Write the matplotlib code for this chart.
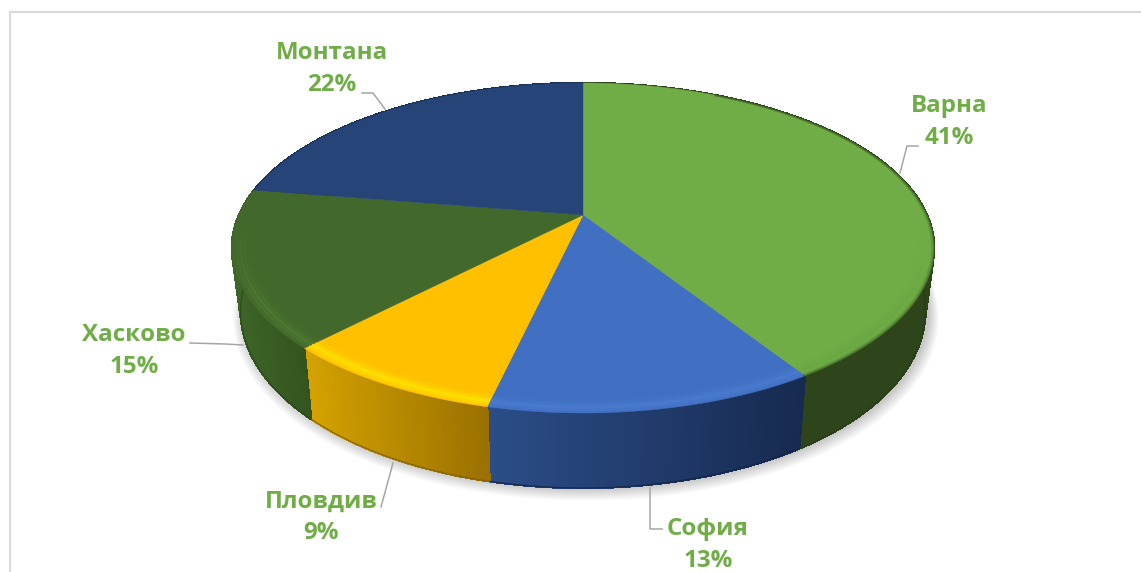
import numpy as np
import matplotlib
matplotlib.use('Agg')
import matplotlib.pyplot as plt
from matplotlib.collections import PolyCollection, LineCollection
from matplotlib.colors import to_rgb

# Data
cities = ['Варна', 'София', 'Пловдив', 'Хасково', 'Монтана']
shares = [41.0, 12.6, 8.6, 15.4, 22.4]

top_colors = ['#70AD47', '#4170C2', '#FFC000', '#43682B', '#264478']
side_left = ['#2E451C', '#2B4D88', '#D4A200', '#3E6528', '#1A2F55']
side_right = ['#2E451C', '#172A50', '#9A7000', '#33541F', '#1A2F55']
rim_colors = ['#5E9A3A', '#4F80D6', '#FFE600', '#527F36', '#264478']
rim_alpha = [0.25, 0.7, 1.0, 0.8, 0.0]

# label centre, leader line (all in picture pixels)
label_pos = [(949, 122), (708, 545), (321, 517), (134, 351), (332, 69)]
leaders = [
    [(918, 146), (907, 146), (900, 173)],
    [(650, 488), (650, 529), (662, 529)],
    [(381, 507), (393, 463)],
    [(190, 343), (225, 344), (243, 345)],
    [(362, 93), (373, 93), (385, 109)],
]

# Perspective of the disc
CX, CY = 583, 215
A, B, K = 344, 158.4, 0.2


def top_point(theta, rho=1.0):
    """Screen position of a point on the top face, theta clockwise from 12 o'clock"""
    s, c = np.sin(theta) * rho, np.cos(theta) * rho
    den = 1 + K * c
    return CX + A * s / den, CY - B * c / den


def bottom_point(theta):
    x, y = top_point(theta)
    depth = 60 - 15 * np.minimum(np.cos(theta), 0)
    return CX + 0.975 * (x - CX), y + depth


def mix(a, b, t):
    a, b = np.array(to_rgb(a)), np.array(to_rgb(b))
    return tuple(a + (b - a) * t)


fig = plt.figure(figsize=(11.41, 5.72), dpi=100)
ax = fig.add_axes([0, 0, 1, 1])
ax.set_xlim(0, 1141)
ax.set_ylim(572, 0)
ax.axis('off')

# Chart frame
ax.plot([1141, 10, 10], [11.5, 11.5, 572], color='#D9D9D9', lw=1.5, solid_joinstyle='miter', zorder=1)

edges = np.cumsum([0] + shares) / sum(shares) * 2 * np.pi

# Soft shadow under the disc
all_t = np.linspace(0, 2 * np.pi, 300)
bx, by = bottom_point(all_t)
for i in range(14):
    grow = 1 + 0.0022 * (14 - i)
    sx = CX + (bx - CX) * grow + 3
    sy = 300 + (by - 300) * grow + (14 - i) * 0.5
    ax.fill(sx, sy, color='black', alpha=0.014, lw=0, zorder=2)

# Side wall, painted strip by strip so the shading can run left to right
for i in range(len(cities)):
    t = np.linspace(edges[i], edges[i + 1], 90)
    tx, ty = top_point(t)
    qx, qy = bottom_point(t)
    polys, cols = [], []
    x_lo, x_hi = tx.min(), tx.max()
    for j in range(len(t) - 1):
        polys.append([(tx[j], ty[j]), (tx[j + 1], ty[j + 1]), (qx[j + 1], qy[j + 1]), (qx[j], qy[j])])
        cols.append(mix(side_left[i], side_right[i], ((tx[j] + tx[j + 1]) / 2 - x_lo) / (x_hi - x_lo)))
    ax.add_collection(PolyCollection(polys, facecolors=cols, edgecolors=cols, linewidths=1.0,
                                     antialiaseds=False, zorder=3))
    # smooth the lower outline of the wall
    ax.plot(qx, qy, color=mix(side_right[i], '#000000', 0.15), lw=1.0, alpha=0.8, zorder=3.5)

# Top face
for i in range(len(cities)):
    t = np.linspace(edges[i], edges[i + 1], 120)
    tx, ty = top_point(t)
    ax.fill(np.r_[CX, tx], np.r_[CY, ty], color=top_colors[i], lw=0.3, zorder=4)

# Bevel along the front rim
for i in range(len(cities)):
    t = np.linspace(edges[i], edges[i + 1], 120)
    fade = np.clip((-np.cos(t) - 0.05) / 0.45, 0, 1)
    for rho, weight, lw in [(0.955, 0.2, 2.5), (0.966, 0.5, 2.2), (0.976, 0.9, 2.0), (0.986, 0.6, 2.0), (0.995, 0.25, 1.6)]:
        px, py = top_point(t, rho)
        segs = [[(px[j], py[j]), (px[j + 1], py[j + 1])] for j in range(len(t) - 1)]
        rgba = [to_rgb(rim_colors[i]) + (fade[j] * weight * rim_alpha[i],) for j in range(len(t) - 1)]
        ax.add_collection(LineCollection(segs, colors=rgba, linewidths=lw, capstyle='butt', zorder=5))

# Thin dark edge on the big slice, the light falls off there
t = np.linspace(0.15 * np.pi, edges[1], 120)
for rho, alpha in [(0.999, 0.5), (0.994, 0.2)]:
    px, py = top_point(t, rho)
    ax.plot(px, py, color='#2E451C', lw=1.2, alpha=alpha, zorder=5.5)

# Leader lines and data labels
for pts in leaders:
    ax.plot([p[0] for p in pts], [p[1] for p in pts], color='#A6A6A6', lw=1.1, zorder=6)

for name, share, pos in zip(cities, shares, label_pos):
    ax.text(pos[0], pos[1], f'{name}\n{share:.0f}%', ha='center', va='center', ma='center',
            color='#70AD47', fontsize=17.4, fontweight='bold', family='Open Sans',
            linespacing=1.4, zorder=7)

fig.savefig('out.png', dpi=100)
